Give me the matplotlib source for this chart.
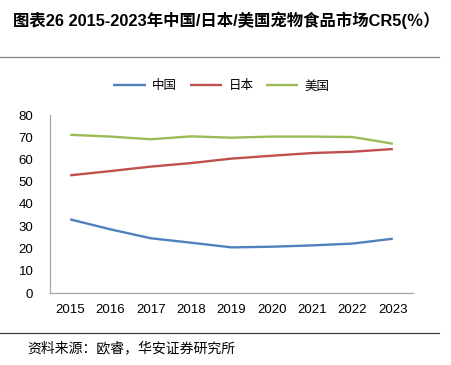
import matplotlib
matplotlib.use('Agg')
import matplotlib.pyplot as plt
from matplotlib.lines import Line2D

plt.rcParams['font.family'] = ['Liberation Sans', 'Noto Sans CJK SC', 'DejaVu Sans']

# data
years = ['2015', '2016', '2017', '2018', '2019', '2020', '2021', '2022', '2023']
china = [33.1, 28.6, 24.6, 22.6, 20.5, 20.8, 21.4, 22.2, 24.4]
japan = [52.9, 54.8, 56.8, 58.4, 60.4, 61.7, 62.9, 63.5, 64.7]
usa = [71.1, 70.3, 69.1, 70.4, 69.8, 70.3, 70.3, 70.1, 67.1]
series_names = ['中国', '日本', '美国']
colors = ['#4F81BD', '#C0504D', '#9BBB59']
yticks = [0, 10, 20, 30, 40, 50, 60, 70, 80]

W, H = 451, 365
fig = plt.figure(figsize=(W / 100, H / 100), dpi=100)
ax = fig.add_axes([50 / W, 1 - 293 / H, (413 - 50) / W, (293 - 115) / H])

x = range(len(years))
for vals, name, c in zip([china, japan, usa], series_names, colors):
    ax.plot(x, vals, color=c, lw=1.7, label=name, solid_capstyle='butt')

ax.set_xlim(-0.5, len(years) - 0.5)
ax.set_ylim(0, 80)
ax.set_yticks(yticks)
ax.set_xticks(list(x))
ax.set_xticklabels(years)
ax.tick_params(axis='y', length=0, pad=12, labelsize=9.5)
ax.tick_params(axis='x', length=0, pad=8, labelsize=9.5)
for s in ['top', 'right']:
    ax.spines[s].set_visible(False)
for s in ['left', 'bottom']:
    ax.spines[s].set_color('#A6A6A6')
    ax.spines[s].set_linewidth(0.9)

# title and separators
fig.text(13 / W, 1 - 20 / H, '图表26 2015-2023年中国/日本/美国宠物食品市场CR5(％）',
         fontsize=11.8, fontweight='bold', ha='left', va='center')
fig.add_artist(Line2D([0, 439 / W], [1 - 57 / H, 1 - 57 / H], color='#7F7F7F', lw=0.9))
fig.add_artist(Line2D([0, 439 / W], [1 - 333 / H, 1 - 333 / H], color='#404040', lw=0.9))
fig.text(27 / W, 1 - 348 / H, '资料来源：欧睿，华安证券研究所', fontsize=10,
         ha='left', va='center', family=['Noto Sans CJK SC'])

leg = fig.legend(loc='center', bbox_to_anchor=(221.5 / W, 1 - 86 / H), ncol=3,
                 frameon=False, handlelength=2.6, handletextpad=0.5,
                 columnspacing=1.0, prop={'family': ['Noto Sans CJK SC'], 'size': 9})

fig.savefig('out.png', dpi=100)
